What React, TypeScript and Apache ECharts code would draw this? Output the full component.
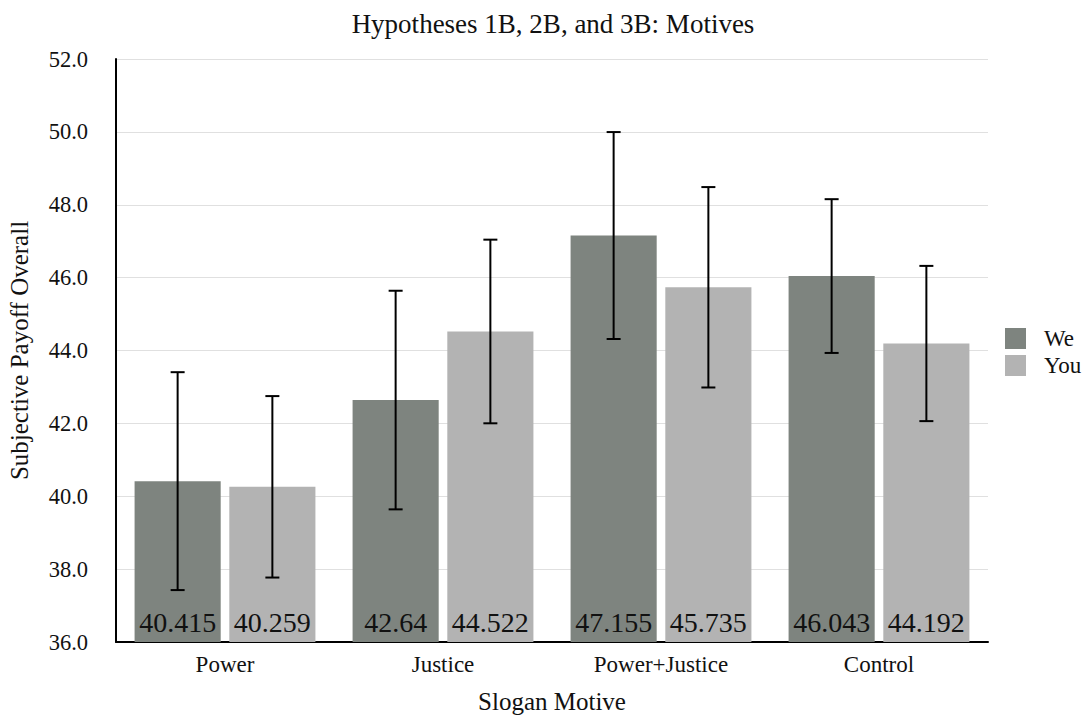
import React, { useEffect, useRef } from "react";
import * as echarts from "echarts";

// Slogan motive conditions and mean subjective payoff per pronoun
const categories = ["Power", "Justice", "Power+Justice", "Control"];
const weMeans = [40.415, 42.64, 47.155, 46.043];
const youMeans = [40.259, 44.522, 45.735, 44.192];
// Half-widths of the error bars
const weErrors = [2.99, 3.0, 2.84, 2.11];
const youErrors = [2.49, 2.52, 2.75, 2.13];

const FONT = "'Liberation Serif', 'Times New Roman', serif";
const WE_COLOR = "#7e847f";
const YOU_COLOR = "#b3b3b3";

function errorSeries(name: string, means: number[], errors: number[], side: number) {
  return {
    type: "custom",
    name,
    z: 10,
    silent: true,
    encode: { x: 0, y: [1, 2] },
    data: means.map((m, i) => [i, m - errors[i], m + errors[i]]),
    renderItem: (params: any, api: any) => {
      const idx = api.value(0);
      const lo = api.coord([idx, api.value(1)]);
      const hi = api.coord([idx, api.value(2)]);
      const band = api.size([1, 0])[0];
      const x = lo[0] + side * 0.2173 * band;
      const cap = 7;
      const style = { stroke: "#000", lineWidth: 2 };
      return {
        type: "group",
        children: [
          { type: "line", shape: { x1: x, y1: hi[1], x2: x, y2: lo[1] }, style },
          { type: "line", shape: { x1: x - cap, y1: hi[1], x2: x + cap, y2: hi[1] }, style },
          { type: "line", shape: { x1: x - cap, y1: lo[1], x2: x + cap, y2: lo[1] }, style },
        ],
      };
    },
  };
}

export default function App() {
  const ref = useRef<HTMLDivElement>(null);

  useEffect(() => {
    if (!ref.current) return;
    const chart = echarts.init(ref.current, undefined, { renderer: "svg" });
    const barLabel = {
      show: true,
      position: "insideBottom",
      distance: 6,
      fontFamily: FONT,
      fontSize: 28,
      color: "#111",
    };
    chart.setOption({
      animation: false,
      backgroundColor: "#fff",
      title: {
        text: "Hypotheses 1B, 2B, and 3B: Motives",
        left: 548,
        textAlign: "center",
        top: 5,
        textStyle: { fontFamily: FONT, fontSize: 27, fontWeight: "normal", color: "#111" },
      },
      legend: {
        orient: "vertical",
        left: 1000,
        top: 322,
        itemWidth: 21,
        itemHeight: 21,
        itemGap: 4,
        data: ["We", "You"],
        icon: "rect",
        textStyle: { fontFamily: FONT, fontSize: 23, color: "#111", padding: [0, 0, 0, 13] },
      },
      grid: {
        left: 116,
        right: 96,
        top: 59,
        bottom: 77,
        containLabel: false,
        outerBoundsMode: "none",
      },
      xAxis: {
        type: "category",
        data: categories,
        name: "Slogan Motive",
        nameLocation: "middle",
        nameGap: 47,
        nameTextStyle: { fontFamily: FONT, fontSize: 25, color: "#111" },
        axisLine: { lineStyle: { color: "#000", width: 2 } },
        axisTick: { show: false },
        axisLabel: { fontFamily: FONT, fontSize: 23, color: "#111", margin: 11 },
      },
      yAxis: {
        type: "value",
        min: 36,
        max: 52,
        interval: 2,
        name: "Subjective Payoff Overall",
        nameLocation: "middle",
        nameGap: 84,
        nameTextStyle: { fontFamily: FONT, fontSize: 25, color: "#111" },
        axisLine: { show: true, lineStyle: { color: "#000", width: 2 } },
        axisTick: { show: false },
        splitLine: { lineStyle: { color: "#e0e0e0", width: 1 } },
        axisLabel: {
          fontFamily: FONT,
          fontSize: 22.5,
          color: "#111",
          margin: 28,
          formatter: (v: number) => v.toFixed(1),
        },
      },
      series: [
        {
          type: "bar",
          name: "We",
          data: weMeans,
          barWidth: "39.5%",
          barGap: "10%",
          itemStyle: { color: WE_COLOR },
          label: barLabel,
        },
        {
          type: "bar",
          name: "You",
          data: youMeans,
          barWidth: "39.5%",
          barGap: "10%",
          itemStyle: { color: YOU_COLOR },
          label: barLabel,
        },
        errorSeries("We error", weMeans, weErrors, -1),
        errorSeries("You error", youMeans, youErrors, 1),
      ],
    });
    return () => chart.dispose();
  }, []);

  return (
    <div
      ref={ref}
      style={{ position: "fixed", left: 0, top: 0, width: 1084, height: 719 }}
    />
  );
}
